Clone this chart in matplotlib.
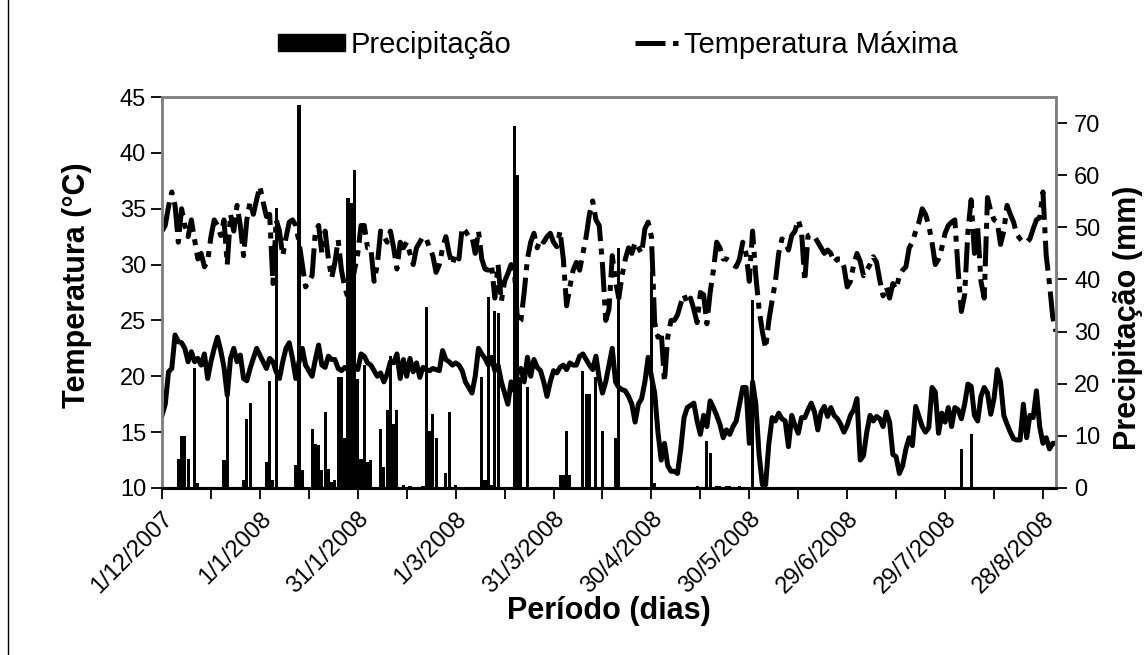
import numpy as np
import matplotlib
matplotlib.use("Agg")
import matplotlib.pyplot as plt
from matplotlib.lines import Line2D
from matplotlib.patches import Patch

plt.rcParams['font.family'] = ['Liberation Sans', 'DejaVu Sans']

# daily maximum temperature (degC), 1/12/2007 onwards
tmax = [33.0, 33.5, 35.2, 36.5, 35.3, 32.0, 35.0, 33.5, 32.5, 34.0,
        32.2, 30.5, 31.0, 29.8, 30.3, 32.5, 34.0, 33.5, 32.6, 34.0,
        30.0, 34.5, 33.0, 35.3, 33.5, 30.8, 34.0, 35.6, 34.5, 35.8,
        37.0, 35.6, 34.3, 34.5, 28.3, 34.0, 33.0, 30.8, 32.4, 33.8,
        34.0, 33.5, 32.0, 30.0, 28.0, 28.5, 29.0, 33.0, 33.5, 31.0,
        33.0, 30.5, 28.8, 30.2, 32.2, 29.5, 28.0, 27.0, 28.0, 29.5,
        31.0, 33.5, 33.5, 31.5, 31.5, 28.5, 30.0, 33.0, 32.5, 32.0,
        33.0, 31.5, 29.6, 32.0, 31.5, 32.0, 31.0, 30.0, 31.5, 32.0,
        32.5, 32.3, 31.5, 30.8, 29.3, 30.0, 31.5, 32.5, 31.0, 30.0,
        31.0, 30.5, 33.3, 33.0, 32.5, 32.5, 31.0, 33.0, 30.5, 29.6,
        29.5, 30.0, 27.0, 30.0, 26.7, 28.5, 29.2, 30.0, 29.5, 24.7,
        25.0, 27.5, 30.5, 32.0, 32.8, 31.5, 32.3, 32.0, 32.5, 32.8,
        32.0, 31.6, 33.0, 30.5, 26.3, 28.0, 29.5, 30.2, 29.5, 31.0,
        32.5, 34.5, 35.7, 34.0, 33.5, 30.0, 25.0, 26.0, 30.8, 28.5,
        27.0, 29.0, 30.5, 31.5, 31.0, 32.0, 31.5, 31.0, 33.2, 33.8,
        32.5, 24.8, 23.5, 24.0, 19.5, 23.5, 25.0, 25.0, 25.5, 26.5,
        27.3, 26.5, 27.0, 26.0, 24.8, 27.5, 27.3, 24.7, 27.5, 29.5,
        32.0, 31.5, 30.5, 30.5, 30.3, 30.0, 29.8, 30.5, 32.0, 31.0,
        28.5, 33.0, 29.0, 26.0, 24.0, 22.5, 25.0, 26.8, 28.5, 31.0,
        32.3, 32.0, 31.3, 32.6, 33.0, 34.0, 33.0, 28.5, 32.6, 32.7,
        32.5, 32.0, 31.5, 31.0, 31.3, 31.0, 30.2, 30.5, 30.5, 29.8,
        28.0, 28.5, 30.0, 31.0, 30.3, 29.0, 29.5, 30.0, 30.7, 30.2,
        28.6, 27.2, 28.0, 27.0, 28.3, 27.8, 29.0, 29.5, 29.8, 31.5,
        32.0, 33.0, 33.8, 35.0, 34.5, 33.5, 32.0, 30.0, 30.5, 31.5,
        32.8, 33.5, 33.8, 34.0, 29.5, 25.8, 27.3, 33.0, 35.8, 31.0,
        33.3, 28.5, 27.0, 36.0, 34.8, 34.0, 33.8, 31.8, 33.0, 35.3,
        34.5, 33.8, 32.7, 32.3, 32.0, 32.0, 32.3, 33.2, 34.0, 34.2,
        36.5, 30.8, 28.3, 25.3, 24.0]

# daily minimum temperature (degC)
tmin = [16.5, 17.5, 20.4, 20.7, 23.7, 23.1, 23.0, 22.5, 21.3, 22.2,
        21.3, 21.6, 21.0, 22.0, 19.8, 21.3, 22.5, 23.5, 22.3, 20.8,
        18.3, 21.6, 22.5, 21.3, 21.9, 19.8, 19.6, 20.7, 21.6, 22.5,
        21.9, 21.3, 20.7, 21.6, 21.3, 20.4, 19.8, 21.3, 22.5, 23.0,
        21.6, 19.8, 21.3, 22.5, 21.0, 20.5, 20.0, 21.5, 22.8, 21.0,
        20.8, 21.8, 21.5, 21.5, 20.7, 20.5, 20.8, 20.6, 20.5, 20.9,
        20.6, 22.0, 21.8, 21.2, 21.0, 20.5, 20.0, 20.3, 19.5, 20.2,
        21.3, 21.2, 22.0, 19.8, 21.5, 20.0, 21.6, 20.4, 21.2, 19.9,
        20.8, 20.6, 20.5, 20.7, 20.6, 20.5, 22.3, 21.5, 21.3, 21.0,
        21.2, 21.0, 20.5, 19.5, 19.0, 18.5, 20.0, 22.5, 22.0, 21.6,
        21.0, 21.7, 20.5, 21.0, 19.5, 18.5, 17.5, 19.5, 18.7, 20.5,
        20.7, 19.5, 21.7, 20.0, 21.5, 20.8, 20.5, 19.5, 18.2, 19.5,
        20.5, 20.3, 20.8, 21.0, 20.6, 21.2, 21.0, 21.0, 21.8, 22.0,
        21.5, 21.0, 20.6, 21.8, 19.8, 18.5, 19.5, 21.0, 22.5, 19.5,
        19.0, 18.8, 18.7, 18.2, 17.5, 15.9, 17.5, 18.0, 19.5, 21.7,
        20.0, 18.5, 15.0, 12.5, 14.0, 12.0, 11.5, 11.5, 11.3, 13.5,
        16.3, 17.2, 17.4, 17.6, 16.0, 14.8, 16.5, 15.5, 17.8, 17.2,
        16.5, 15.7, 14.5, 15.2, 14.8, 15.5, 16.0, 17.5, 19.0, 19.0,
        14.0, 19.5, 17.5, 13.0, 10.3, 10.3, 14.0, 16.3, 16.0, 16.7,
        16.2, 16.0, 13.7, 16.5, 15.6, 14.9, 16.3, 16.3, 17.0, 17.6,
        16.8, 15.2, 16.8, 17.3, 16.4, 17.2, 16.5, 16.2, 15.7, 15.0,
        15.6, 16.5, 17.0, 18.0, 12.5, 12.9, 15.0, 16.5, 16.0, 16.4,
        16.2, 15.5, 16.8, 15.9, 13.0, 12.8, 11.3, 12.0, 13.5, 14.5,
        13.8, 17.3, 16.4, 15.5, 15.0, 15.4, 19.0, 18.6, 14.9, 16.7,
        15.9, 17.2, 15.5, 17.2, 17.0, 16.2, 17.5, 19.3, 19.1, 16.5,
        16.0, 18.2, 19.0, 18.5, 16.6, 18.0, 20.6, 19.5, 16.5, 15.7,
        15.0, 14.4, 14.3, 14.3, 17.5, 14.5, 16.5, 16.3, 18.7, 15.5,
        14.0, 14.5, 13.5, 14.0, 14.0]

# rainy days (index from 1/12/2007) and rainfall (mm)
rain_days = [5, 6, 7, 8, 10, 11, 19, 20, 25, 26, 27, 32, 33, 34, 35,
             41, 42, 43, 46, 47, 48, 49, 50, 51, 52, 53, 54, 55, 56, 57,
             58, 59, 60, 61, 62, 63, 64, 67, 68, 69, 70, 71, 72, 74, 76,
             80, 81, 82, 83, 84, 87, 88, 90, 98, 99, 100, 101, 102, 103,
             108, 109, 110, 112, 122, 123, 124, 125, 129, 130, 131, 133,
             135, 139, 140, 150, 151, 164, 167, 168, 170, 171, 173, 174,
             177, 181, 245, 248]
rain_mm = [5.6, 10, 10, 5.6, 23, 1, 5.4, 18, 1.5, 13.3, 16.4, 5, 20.6, 1.5, 53.7,
           4.4, 73.4, 3.5, 11.4, 8.5, 8.2, 3.4, 14.5, 3.7, 1.2, 1.6, 21.2, 21.3, 9.5, 55.7,
           54.6, 61, 21, 5.6, 23.5, 5, 5.3, 11.3, 4, 15, 25.4, 12.3, 15, 0.5, 0.3,
           0.3, 34.7, 11, 14.2, 9.6, 2.8, 14.5, 0.5, 21.2, 1.5, 36.7, 0.5, 34, 33.5,
           69.4, 60, 21.2, 19.3, 2.5, 2.5, 11, 2.5, 22.5, 18, 18, 21.2,
           11, 9.6, 46, 41.5, 1, 0.3, 9, 6.7, 0.3, 0.3, 0.3, 0.3,
           0.3, 36, 7.5, 10.4]

tick_labels = ['1/12/2007', '1/1/2008', '31/1/2008', '1/3/2008', '31/3/2008',
               '30/4/2008', '30/5/2008', '29/6/2008', '29/7/2008', '28/8/2008']

days = np.arange(len(tmax))
rain = np.zeros(len(tmax))
rain[rain_days] = rain_mm

dash = (6, 1.5, 1.2, 1.5)

W, H = 1148, 655
fig = plt.figure(figsize=(W / 100, H / 100), dpi=100)
ax = fig.add_axes([162 / W, 1 - 488 / H, (1056 - 162) / W, (488 - 97) / H])
ax2 = ax.twinx()

ax.plot(days, tmin, color='black', lw=3.6, solid_joinstyle='round')
ax.plot(days, tmax, color='black', lw=3.6, dashes=dash, dash_capstyle='butt')
ax2.bar(days, rain, width=0.95, color='black')

ax.set_xlim(0, 274)
ax.set_ylim(10, 45)
ax.set_yticks(range(10, 50, 5))
ax2.set_ylim(0, 75)
ax2.set_yticks(range(0, 80, 10))

ax.set_xticks(range(0, 275, 15))
xt = []
for i in range(19):
    xt.append(tick_labels[i // 2] if i % 2 == 0 else '')
ax.set_xticklabels(xt, rotation=45, ha='right', rotation_mode='anchor', fontsize=16)

for a in (ax, ax2):
    for s in ('top', 'left', 'right'):
        a.spines[s].set_color('#808080')
        a.spines[s].set_linewidth(1.8)
    a.spines['bottom'].set_color('black')
    a.spines['bottom'].set_linewidth(2.2)
    a.tick_params(direction='out', length=8, width=1.3, labelsize=17)
ax.tick_params(axis='x', length=8, pad=6)
ax2.tick_params(axis='y', pad=5)

fig.text(609 / W, 1 - 611 / H, 'Período (dias)', ha='center', va='center',
         fontsize=22, fontweight='bold')
fig.text(77 / W, 1 - 285 / H, 'Temperatura (°C)', ha='center', va='center',
         rotation=90, fontsize=22, fontweight='bold')
fig.text(1128 / W, 1 - 318 / H, 'Precipitação (mm)', ha='center', va='center',
         rotation=90, fontsize=22, fontweight='bold')

# two legend entries, each with its own handle length
leg_kw = dict(loc='center left', frameon=False, fontsize=21, borderpad=0,
              handletextpad=0.2)
fig.legend([Patch(facecolor='black', edgecolor='black')], ['Precipitação'],
           bbox_to_anchor=(263 / W, 1 - 45 / H), handlelength=2.3,
           handleheight=0.55, **leg_kw)
fig.legend([Line2D([], [], color='black', lw=3.6, dashes=dash, dash_capstyle='butt')],
           ['Temperatura Máxima'], bbox_to_anchor=(620 / W, 1 - 45 / H),
           handlelength=1.5, **leg_kw)

# page border line on the left
fig.add_artist(Line2D([8 / W, 8 / W], [0, 1], color='black', lw=1))

fig.savefig('out.png', dpi=100)
